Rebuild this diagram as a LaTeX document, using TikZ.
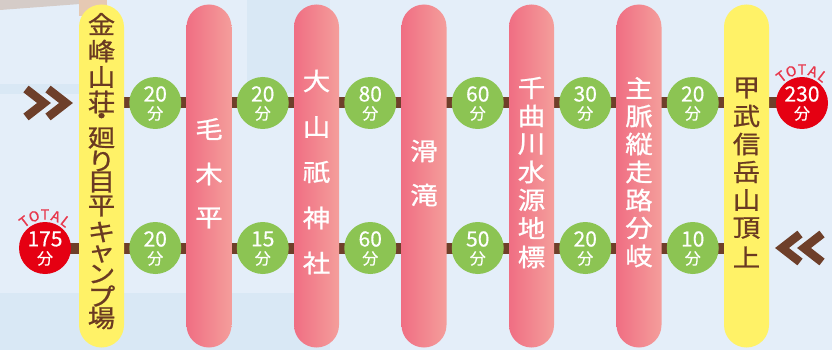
\documentclass[tikz,border=0pt]{standalone}
\usepackage{fontspec}
\setmainfont{Noto Sans CJK JP}
\newfontfamily\jpmed{Noto Sans CJK JP}[FakeBold=0.9]
\newfontfamily\jpnum{Noto Sans CJK JP}[FakeBold=0.5]
\newfontfamily\jptot{Noto Sans CJK JP}[FakeBold=1.2]
\definecolor{bg}{HTML}{E4EEF9}
\definecolor{patch}{HTML}{D9E8F5}
\definecolor{pinkL}{HTML}{F06E83}
\definecolor{pinkR}{HTML}{F49E9B}
\definecolor{yel}{HTML}{FFF267}
\definecolor{grn}{HTML}{8CC453}
\definecolor{redc}{HTML}{E50012}
\definecolor{brn}{HTML}{6E3F2A}
\definecolor{txtbrn}{HTML}{6A3A22}
\definecolor{totc}{HTML}{E8374C}
\definecolor{tan}{HTML}{E6C9B3}
\definecolor{greybeige}{HTML}{D5CCC8}
\newcommand\widen[1]{\scalebox{1.12}[1]{#1}}
\pgfdeclarelayer{backlayer}
\pgfdeclarelayer{barlayer}
\pgfsetlayers{backlayer,barlayer,main}
\begin{document}
\begin{tikzpicture}[x=1pt,y=-1pt,
  pinkpill/.style={rectangle, rounded corners=22.5pt, minimum width=45pt, minimum height=343pt, left color=pinkL, right color=pinkR, inner sep=0pt},
  yelpill/.style={rectangle, rounded corners=22.5pt, minimum width=45pt, minimum height=343pt, fill=yel, inner sep=0pt},
  gcirc/.style={circle, fill=grn, minimum size=52pt, inner sep=0pt},
  rcirc/.style={circle, fill=redc, minimum size=52pt, inner sep=0pt},
  brbar/.style={draw=brn, line width=11pt},
  chev/.style={draw=brn, line width=8.5pt, miter limit=10},
  wch/.style={text=white, font=\jpmed\fontsize{24.5}{24.5}\selectfont, inner sep=0pt},
  bch/.style={text=txtbrn, font=\jpmed\fontsize{24.5}{24.5}\selectfont, inner sep=0pt},
  num/.style={text=white, font=\jpnum\fontsize{21}{21}\selectfont, inner sep=0pt},
  fen/.style={text=white, font=\jpnum\fontsize{16}{16}\selectfont, inner sep=0pt},
  tot/.style={text=totc, font=\jptot\fontsize{14}{14}\selectfont, inner sep=0pt},
]
\useasboundingbox (0,0) rectangle (832,350);
% background
\begin{pgfonlayer}{backlayer}
\fill[bg] (0,0) rectangle (832,350);
\fill[patch] (0,84) rectangle (79,94);
\fill[patch] (247,0) rectangle (330,93);
\fill[patch] (0,293) rectangle (330,350);
\fill[greybeige] (0,0) -- (80,0) -- (80,4) -- (0,10) -- cycle;
\fill[tan] (79,0) rectangle (107,16);
\end{pgfonlayer}
% pills
\node[yelpill] (p1) at (101.5,176) {};
\node[pinkpill] (p2) at (209,176) {};
\node[pinkpill] (p3) at (316.5,176) {};
\node[pinkpill] (p4) at (424,176) {};
\node[pinkpill] (p5) at (531.5,176) {};
\node[pinkpill] (p6) at (639,176) {};
\node[yelpill] (p7) at (746.5,176) {};
% red circles
\node[rcirc] (rt) at (802,103) {};
\node[rcirc] (rb) at (45,248) {};
\node[num] (rtn) at ([yshift=9pt]rt.center) {230};
\node[fen] (rtf) at ([yshift=-10.5pt]rt.center) {分};
\node[num] (rbn) at ([yshift=9pt]rb.center) {175};
\node[fen] (rbf) at ([yshift=-10.5pt]rb.center) {分};
% green circles
\foreach \x/\t [count=\i] in {155.25/20,262.75/20,370.25/80,477.75/60,585.25/30,692.75/20}{
  \node[gcirc] (gt\i) at (\x,103) {};
  \node[num] (gtn\i) at ([yshift=9pt]gt\i.center) {\t};
  \node[fen] (gtf\i) at ([yshift=-10.5pt]gt\i.center) {分};
}
\foreach \x/\t [count=\i] in {155.25/20,262.75/15,370.25/60,477.75/50,585.25/20,692.75/10}{
  \node[gcirc] (gb\i) at (\x,248) {};
  \node[num] (gbn\i) at ([yshift=9pt]gb\i.center) {\t};
  \node[fen] (gbf\i) at ([yshift=-10.5pt]gb\i.center) {分};
}
% bars
\begin{pgfonlayer}{barlayer}
\draw[brbar] (p1.center |- rt.center) -- (rt.center);
\draw[brbar] (rb.center) -- (p7.center |- rb.center);
\end{pgfonlayer}
% TOTAL labels
\foreach \c/\a [count=\i] in {T/-38,O/-19,T/0,A/19,L/38}{
  \node[tot, rotate=-\a] (tt\i) at ({802+33.5*sin(\a)},{103-33.5*cos(\a)}) {\c};
  \node[tot, rotate=-\a] (tb\i) at ({45+33.5*sin(\a)},{248-33.5*cos(\a)}) {\c};
}
% chevrons
\draw[chev] (26,89) -- (44,103) -- (26,117);
\draw[chev] (48,89) -- (66,103) -- (48,117);
\draw[chev] (800,234) -- (782,248) -- (800,262);
\draw[chev] (822,234) -- (804,248) -- (822,262);
% pill texts
\foreach \ch/\yy [count=\i] in {金/24,峰/51,山/77,荘/102,・/119,廻/138,り/161,目/182,平/206,キ/232,ャ/254,ン/274,プ/296,場/318}
  \node[bch] (a\i) at (101.5,\yy) {\widen{\ch}};
\foreach \ch/\yy [count=\i] in {毛/129,木/174,平/218}
  \node[wch] (b\i) at (209,\yy) {\widen{\ch}};
\foreach \ch/\yy [count=\i] in {大/81,山/127,祇/172,神/218,社/263}
  \node[wch] (c\i) at (316.5,\yy) {\widen{\ch}};
\foreach \ch/\yy [count=\i] in {滑/151,滝/195}
  \node[wch] (d\i) at (424,\yy) {\widen{\ch}};
\foreach \ch/\yy [count=\i] in {千/88,曲/116,川/144,水/172,源/200,地/228,標/257}
  \node[wch] (e\i) at (531.5,\yy) {\widen{\ch}};
\foreach \ch/\yy [count=\i] in {主/88,脈/116,縦/144,走/172,路/200,分/228,岐/256}
  \node[wch] (f\i) at (639,\yy) {\widen{\ch}};
\foreach \ch/\yy [count=\i] in {甲/88,武/116,信/144,岳/172,山/200,頂/228,上/257}
  \node[bch] (g\i) at (746.5,\yy) {\widen{\ch}};
\end{tikzpicture}
\end{document}
